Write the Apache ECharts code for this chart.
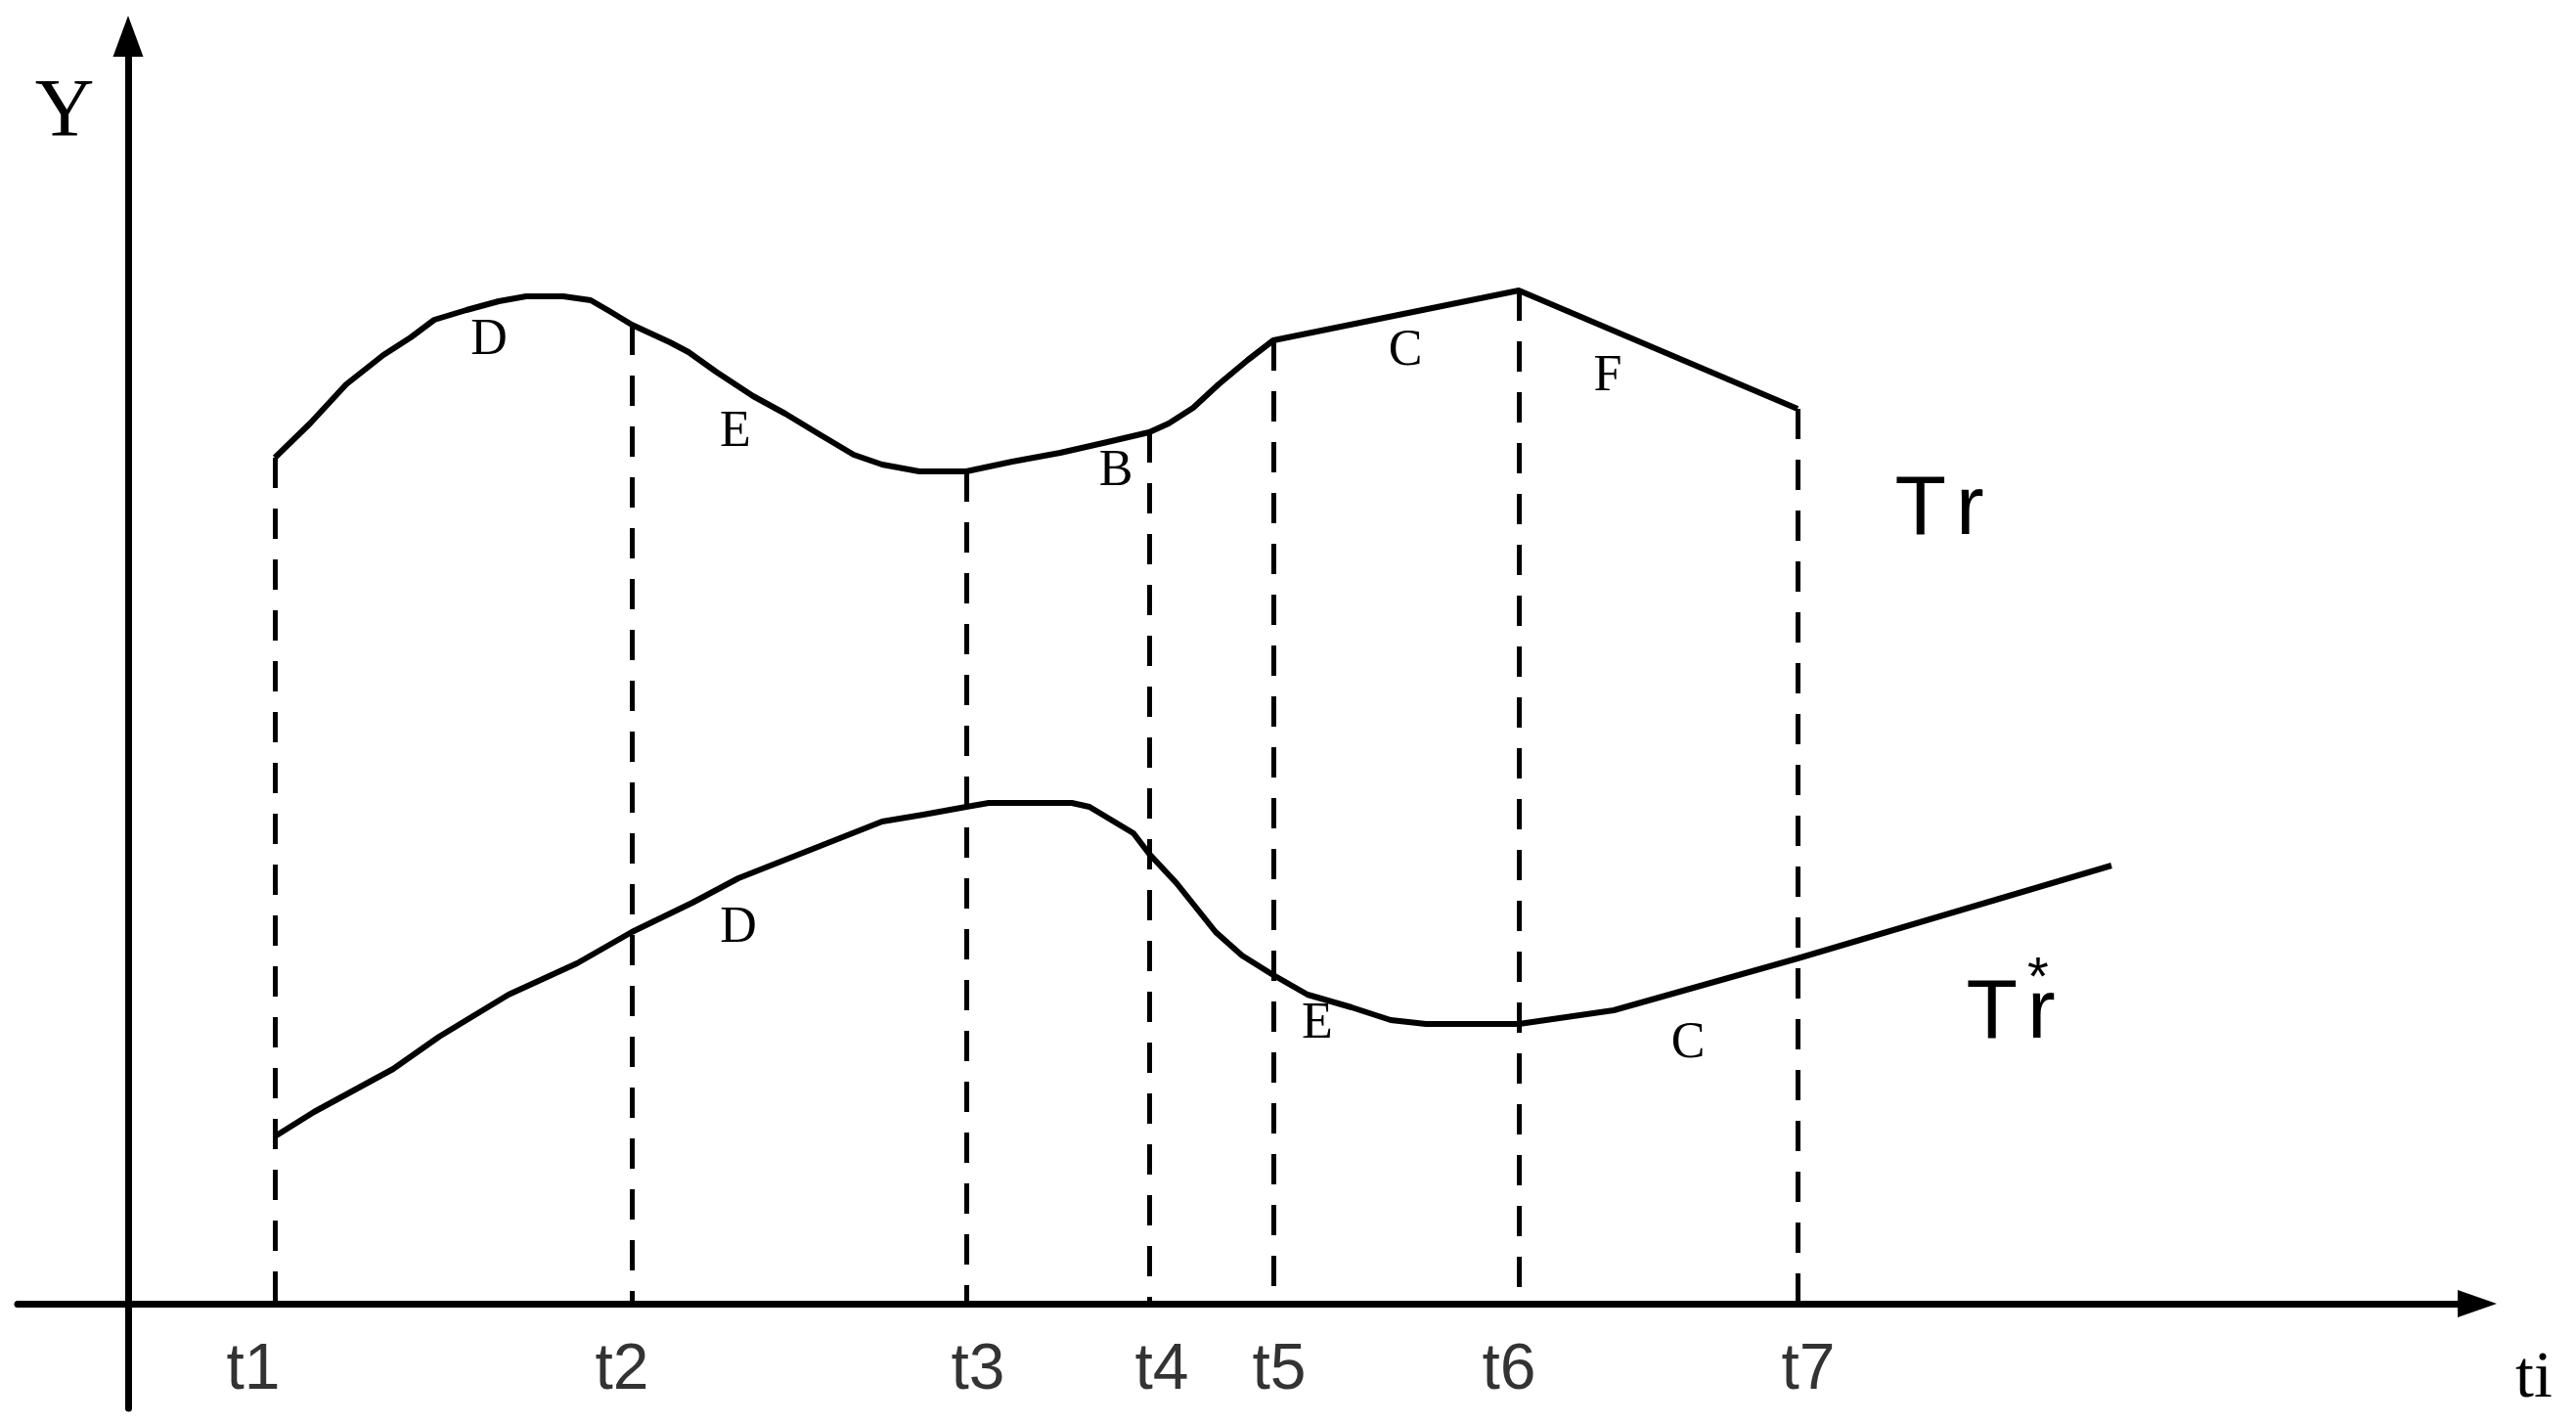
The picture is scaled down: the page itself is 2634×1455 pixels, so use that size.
<!DOCTYPE html>
<html>
<head>
<meta charset="utf-8">
<script src="https://cdn.jsdelivr.net/npm/echarts@6/dist/echarts.min.js"></script>
<style>
  html, body { margin: 0; padding: 0; background: #fff; }
  #chart { width: 2634px; height: 1455px; }
</style>
</head>
<body>
<div id="chart"></div>
<script>
// time marks on the ti axis (1 unit = 100 px of the figure)
const tLabels = ["t1", "t2", "t3", "t4", "t5", "t6", "t7"];
const tPos = [1.5, 5.15, 8.57, 10.44, 11.71, 14.22, 17.07];
// the printed tick names sit a little off their guides
const tLabelX = [1.28, 5.05, 8.69, 10.57, 11.77, 14.12, 17.18];

// upper trajectory Tr
const trPoints = [
  [1.5, 8.65], [1.86, 9.0], [2.23, 9.4], [2.61, 9.7], [2.89, 9.88],
  [3.13, 10.06], [3.46, 10.16], [3.79, 10.25], [4.07, 10.3], [4.45, 10.3],
  [4.73, 10.26], [4.92, 10.15], [5.15, 10.01], [5.54, 9.83], [5.73, 9.73],
  [6.01, 9.53], [6.39, 9.28], [6.72, 9.1], [7.05, 8.9], [7.42, 8.68],
  [7.71, 8.58], [8.09, 8.51], [8.57, 8.51], [9.04, 8.61], [9.53, 8.7],
  [9.97, 8.8], [10.44, 8.91], [10.64, 9.0], [10.89, 9.16], [11.15, 9.4],
  [11.45, 9.65], [11.71, 9.85], [14.22, 10.36], [17.07, 9.15]
];

// lower trajectory Tr*
const trStarPoints = [
  [1.5, 1.71], [1.9, 1.96], [2.71, 2.4], [3.18, 2.73], [3.89, 3.16],
  [4.59, 3.48], [5.15, 3.8], [5.77, 4.1], [6.24, 4.35], [6.95, 4.63],
  [7.71, 4.93], [8.13, 5.0], [8.57, 5.08], [8.8, 5.12], [9.65, 5.12],
  [9.83, 5.08], [10.28, 4.81], [10.44, 4.6], [10.72, 4.3], [11.12, 3.8],
  [11.39, 3.56], [11.71, 3.36], [12.06, 3.16], [12.51, 3.03], [12.91, 2.9],
  [13.27, 2.86], [14.22, 2.86], [15.19, 3.0], [17.07, 3.53], [20.28, 4.48]
];

// segment letters and where they sit
const trSegments = ["D", "E", "B", "C", "F"];
const trSegmentAt = [[3.69, 9.85], [6.21, 8.91], [10.1, 8.51], [13.06, 9.74], [15.13, 9.48]];
const trStarSegments = ["D", "E", "C"];
const trStarSegmentAt = [[6.24, 3.84], [12.16, 2.86], [15.95, 2.66]];

const ink = "#000";
const sans = "Liberation Sans";
const serif = "Liberation Serif";

const chart = echarts.init(document.getElementById("chart"));

function letters(names, coords) {
  return names.map((n, i) => ({ name: n, coord: coords[i] }));
}

const hidden = { symbol: "circle", symbolSize: 1, itemStyle: { color: "rgba(0,0,0,0)" } };

const letterLabel = {
  show: true, position: "inside", color: ink,
  fontFamily: serif, fontSize: 52,
  formatter: p => p.name
};

const nameRich = {
  a: { fontFamily: sans, fontSize: 86, color: ink, padding: [0, 10, 0, 0] },
  b: { fontFamily: sans, fontSize: 86, color: ink }
};

// dashed guides from Tr down to the time axis
const guides = tPos.map(t => {
  const top = trPoints.find(p => Math.abs(p[0] - t) < 1e-6)[1];
  return [{ coord: [t, top] }, { coord: [t, 0] }];
});

chart.setOption({
  animation: false,
  grid: { left: 18, right: 101, top: 37, bottom: 15, outerBoundsMode: "none" },
  xAxis: {
    type: "value", min: -1.13, max: 24.02,
    axisLine: {
      onZero: true, symbol: ["none", "triangle"], symbolSize: [28, 40],
      lineStyle: { color: ink, width: 7 }
    },
    axisTick: { show: false },
    splitLine: { show: false },
    axisLabel: { show: false }
  },
  yAxis: {
    type: "value", min: -1.07, max: 12.96,
    axisLine: {
      onZero: true, symbol: ["none", "triangle"], symbolSize: [31, 42],
      lineStyle: { color: ink, width: 7 }
    },
    axisTick: { show: false },
    splitLine: { show: false },
    axisLabel: { show: false }
  },
  graphic: [
    { type: "text", x: 66, y: 117, silent: true,
      style: { text: "Y", fontFamily: serif, fontSize: 84, fill: ink, align: "center", verticalAlign: "middle" } },
    { type: "text", x: 2591, y: 1410, silent: true,
      style: { text: "ti", fontFamily: serif, fontSize: 68, fill: ink, align: "center", verticalAlign: "middle" } }
  ],
  series: [
    {
      name: "Tr", type: "line", data: trPoints, showSymbol: false, silent: true,
      lineStyle: { color: ink, width: 6, join: "round" },
      markLine: {
        silent: true, symbol: ["none", "none"], label: { show: false },
        lineStyle: { color: ink, width: 5, type: [31, 21] },
        data: guides
      },
      markPoint: Object.assign({}, hidden, {
        silent: true,
        label: letterLabel,
        data: letters(trSegments, trSegmentAt).concat([
          { name: "Tr", coord: [18.52, 8.11],
            label: { formatter: "{a|T}{b|r}", rich: nameRich } }
        ])
      })
    },
    {
      name: "Tr*", type: "line", data: trStarPoints, showSymbol: false, silent: true,
      lineStyle: { color: ink, width: 6, join: "round" },
      markPoint: Object.assign({}, hidden, {
        silent: true,
        label: letterLabel,
        data: letters(trStarSegments, trStarSegmentAt).concat([
          { name: "Tr", coord: [19.25, 2.96],
            label: { formatter: "{a|T}{b|r}", rich: nameRich } },
          { name: "*", coord: [19.53, 3.31],
            label: { fontFamily: sans, fontSize: 56 } }
        ])
      })
    },
    {
      name: "ticks", type: "scatter", silent: true,
      symbol: "circle", symbolSize: 1, itemStyle: { color: "rgba(0,0,0,0)" },
      data: tLabels.map((n, i) => ({ name: n, value: [tLabelX[i], 0] })),
      label: {
        show: true, position: "inside", offset: [0, 69],
        fontFamily: sans, fontSize: 66, color: ink,
        formatter: p => p.name
      }
    }
  ]
});
</script>
</body>
</html>
